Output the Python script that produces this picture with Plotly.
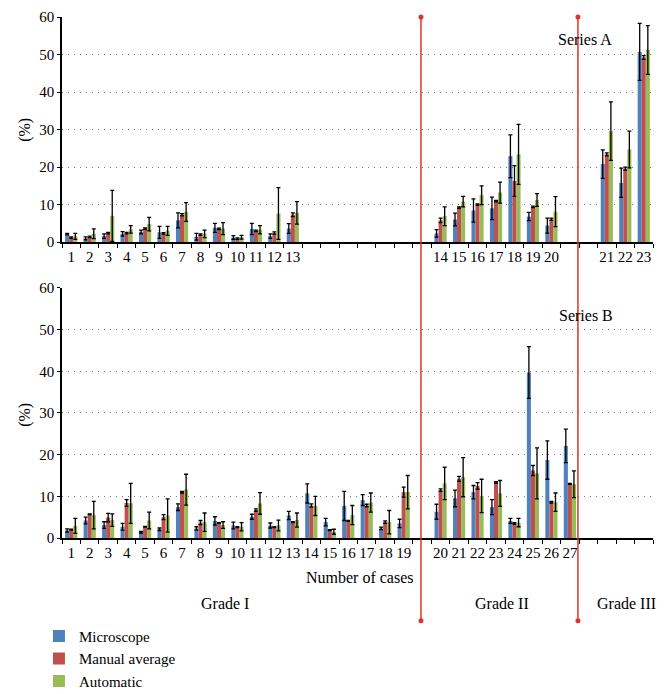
import plotly.graph_objects as go

# ---------------- data ----------------
series_names = ["Microscope", "Manual average", "Automatic"]
series_colors = ["#4F81BD", "#C0504D", "#9BBB59"]

# slot layout (None = empty slot on the category axis)
top_slots = [str(i) for i in range(1, 14)] + [None] * 7 + [str(i) for i in range(14, 21)] + [None] * 2 + ["21", "22", "23"]
bot_slots = [str(i) for i in range(1, 20)] + [None] + [str(i) for i in range(20, 28)] + [None] * 4

# Series A (cases 1-23)
a_micro = [2.1, 1.0, 1.6, 2.2, 2.7, 2.6, 5.8, 1.4, 3.8, 1.2, 3.5, 1.6, 3.6,
           2.3, 6.0, 8.4, 9.0, 22.9, 6.8, 4.4, 20.8, 15.8, 50.7]
a_micro_err = [0.2, 0.4, 0.6, 0.6, 0.5, 1.6, 2.0, 0.9, 1.2, 0.5, 1.5, 0.6, 1.3,
               1.0, 1.7, 3.1, 3.0, 5.7, 1.1, 2.0, 3.8, 3.9, 7.6]
a_manual = [1.2, 1.4, 2.4, 2.4, 3.6, 2.3, 7.3, 2.0, 3.5, 0.9, 3.0, 2.4, 7.3,
            5.8, 9.2, 10.0, 10.9, 16.3, 9.4, 6.1, 23.4, 19.6, 49.2]
a_manual_err = [0.2, 0.2, 0.2, 0.2, 0.2, 0.2, 0.3, 0.2, 0.2, 0.2, 0.2, 0.3, 0.5,
                0.6, 0.2, 0.2, 0.2, 4.1, 0.2, 0.3, 0.4, 0.4, 0.5]
a_auto = [1.5, 2.2, 7.0, 3.4, 4.8, 3.0, 8.0, 2.2, 3.6, 1.3, 3.3, 7.6, 7.8,
          6.9, 10.8, 12.5, 13.2, 23.4, 11.2, 8.1, 29.6, 24.7, 51.2]
a_auto_err = [0.8, 1.3, 6.8, 1.0, 1.8, 1.2, 2.5, 1.0, 1.6, 0.5, 1.1, 6.9, 3.0,
              2.5, 1.4, 2.5, 2.8, 8.0, 1.7, 4.0, 7.8, 4.9, 6.5]

# Series B (cases 1-27)
b_micro = [1.8, 4.2, 3.1, 2.7, 1.4, 2.1, 7.4, 2.3, 4.1, 3.0, 5.1, 3.0, 5.4, 10.7,
           3.8, 7.7, 9.1, 2.3, 3.5, 6.3, 9.5, 11.0, 7.4, 4.1, 39.7, 18.7, 22.1]
b_micro_err = [0.4, 0.8, 0.8, 0.8, 0.2, 0.3, 0.8, 0.4, 1.0, 0.8, 0.6, 0.6, 1.0, 2.3,
               0.9, 3.5, 1.3, 0.3, 1.0, 1.8, 2.0, 1.6, 1.8, 0.6, 6.2, 4.6, 4.0]
b_manual = [2.0, 5.7, 4.9, 8.4, 2.7, 5.0, 11.0, 3.7, 3.6, 2.6, 6.7, 2.6, 3.8, 7.8,
            1.9, 4.1, 7.8, 3.8, 11.0, 11.5, 14.2, 12.5, 13.3, 3.5, 16.2, 8.6, 13.0]
b_manual_err = [0.1, 0.1, 1.0, 0.8, 0.1, 0.6, 0.2, 0.5, 0.1, 0.1, 0.3, 0.1, 0.1, 0.4,
                0.1, 0.1, 0.3, 0.3, 1.2, 0.3, 0.6, 0.8, 0.2, 0.2, 1.2, 0.2, 0.1]
b_auto = [2.9, 5.5, 4.3, 8.3, 4.2, 5.4, 11.6, 3.8, 3.1, 2.7, 8.3, 3.0, 4.3, 7.7,
          1.5, 5.5, 8.5, 3.8, 11.0, 13.1, 14.6, 10.1, 10.7, 3.7, 15.5, 8.6, 12.9]
b_auto_err = [1.8, 3.3, 1.5, 4.8, 2.0, 4.0, 3.7, 2.2, 0.8, 1.0, 2.6, 1.3, 1.7, 2.3,
              0.6, 2.3, 2.3, 2.8, 4.0, 3.9, 4.7, 4.0, 3.1, 1.0, 6.1, 2.2, 3.2]

y_ticks = [0, 10, 20, 30, 40, 50, 60]

# ---------------- figure ----------------
FONT = "Liberation Serif"
fig = go.Figure()


def slot_positions(slots):
    return [i for i, s in enumerate(slots) if s is not None], [s for s in slots if s is not None]


top_x, top_labels = slot_positions(top_slots)
bot_x, bot_labels = slot_positions(bot_slots)

top_sets = [(a_micro, a_micro_err), (a_manual, a_manual_err), (a_auto, a_auto_err)]
bot_sets = [(b_micro, b_micro_err), (b_manual, b_manual_err), (b_auto, b_auto_err)]

for name, color, (vals, errs) in zip(series_names, series_colors, top_sets):
    fig.add_trace(go.Bar(
        x=top_x, y=vals, name=name, marker=dict(color=color, line=dict(width=0)),
        error_y=dict(type="data", array=errs, visible=True, color="black", thickness=1.3, width=2),
        xaxis="x2", yaxis="y2", showlegend=False,
    ))
for name, color, (vals, errs) in zip(series_names, series_colors, bot_sets):
    fig.add_trace(go.Bar(
        x=bot_x, y=vals, name=name, marker=dict(color=color, line=dict(width=0)),
        error_y=dict(type="data", array=errs, visible=True, color="black", thickness=1.3, width=2),
        xaxis="x", yaxis="y", showlegend=True,
    ))

n_slots = len(top_slots)
boundaries = [k - 0.5 for k in range(n_slots + 1)]

common_x = dict(
    range=[-0.5, n_slots - 0.5], showline=True, linecolor="black", linewidth=1.5,
    tickmode="array", ticks="", showgrid=False, zeroline=False, automargin=False,
    tickfont=dict(family=FONT, size=15, color="black"),
    minor=dict(tickmode="array", tickvals=boundaries, ticks="outside", ticklen=4,
               tickcolor="black", tickwidth=1, showgrid=False),
)
common_y = dict(
    range=[0, 60], tickvals=y_ticks, showline=True, linecolor="black", linewidth=1.5,
    ticks="outside", ticklen=3, tickcolor="black", showgrid=True, gridcolor="#7a7a7a",
    griddash="1px,5px", gridwidth=1, zeroline=False, automargin=False,
    tickfont=dict(family=FONT, size=15, color="black"),
)

top_dom = [0.568, 1.0]
bot_dom = [0.0, 0.48]

# the page adds an 8px body margin, so the figure is 8px smaller than the window
fig.update_layout(
    width=659, height=686,
    margin=dict(l=54, r=14, t=9, b=156, autoexpand=False),
    paper_bgcolor="white", plot_bgcolor="white",
    barmode="group", bargap=0.34, bargroupgap=0.0,
    xaxis=dict(common_x, domain=[0, 1], anchor="y", tickvals=bot_x, ticktext=bot_labels),
    yaxis=dict(common_y, domain=bot_dom, anchor="x"),
    xaxis2=dict(common_x, domain=[0, 1], anchor="y2", tickvals=top_x, ticktext=top_labels),
    yaxis2=dict(common_y, domain=top_dom, anchor="x2"),
    legend=dict(x=-0.039, y=-0.157, xanchor="left", yanchor="top", orientation="v",
                font=dict(family=FONT, size=15, color="black"), itemwidth=30,
                tracegroupgap=0, bgcolor="rgba(0,0,0,0)"),
    font=dict(family=FONT, size=15, color="black"),
)

ann = [
    dict(text="(%)", x=-0.063, y=0.783, textangle=-90),
    dict(text="(%)", x=-0.063, y=0.236, textangle=-90),
    dict(text="Series A", x=0.885, y=0.956),
    dict(text="Series B", x=0.886, y=0.428),
    dict(text="Number of cases", x=0.505, y=-0.075),
    dict(text="Grade I", x=0.276, y=-0.125),
    dict(text="Grade II", x=0.745, y=-0.125),
    dict(text="Grade III", x=0.956, y=-0.125),
]
for a in ann:
    fig.add_annotation(xref="paper", yref="paper", showarrow=False,
                       xanchor="center", yanchor="middle",
                       font=dict(family=FONT, size=16, color="black"), **a)

RED = "#E0332C"
for px in [0.6074, 0.873]:
    fig.add_shape(type="line", xref="paper", yref="paper", x0=px, x1=px, y0=1.0, y1=-0.159,
                  line=dict(color=RED, width=1.5), layer="above")
    for py in [1.0, -0.159]:
        fig.add_shape(type="circle", xref="paper", yref="paper", xsizemode="pixel", ysizemode="pixel",
                      xanchor=px, yanchor=py, x0=-2.5, x1=2.5, y0=-2.5, y1=2.5,
                      fillcolor=RED, line=dict(color=RED, width=0), layer="above")

fig.write_html("out.html")
